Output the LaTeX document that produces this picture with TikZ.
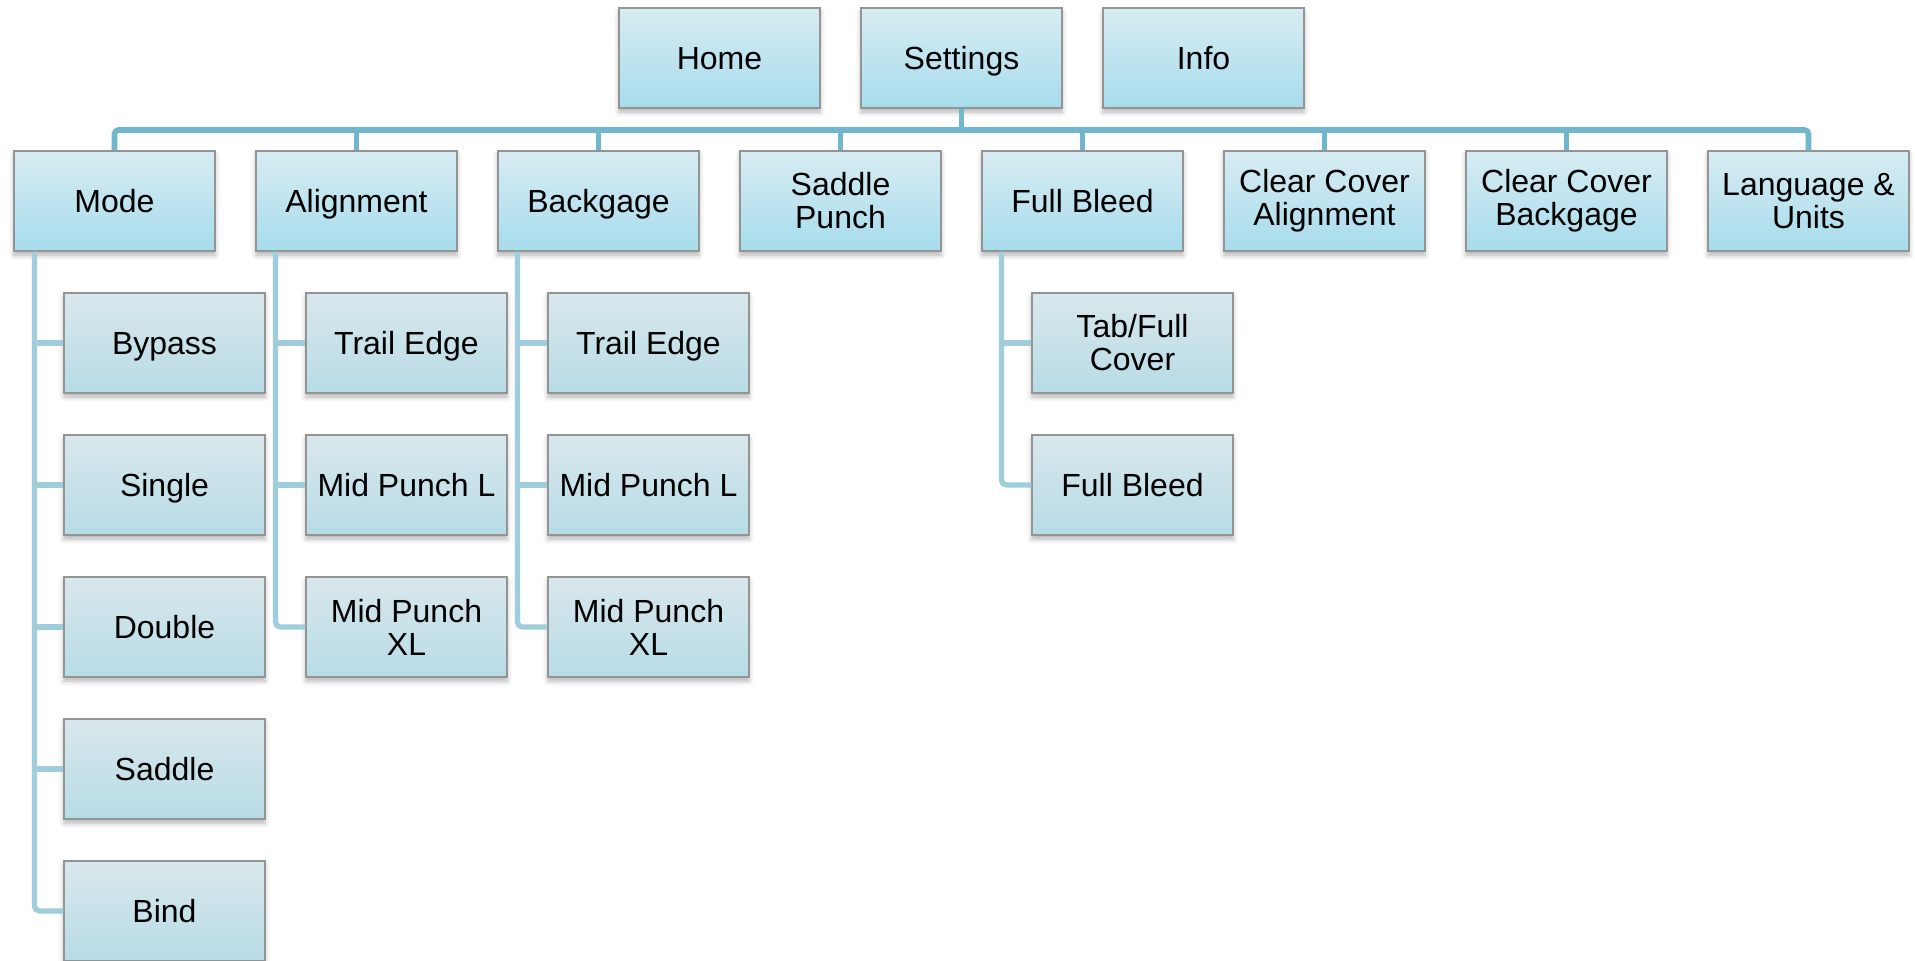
\documentclass[tikz,border=0pt]{standalone}
\usepackage{fontspec}
\setmainfont{Liberation Sans}
\usetikzlibrary{shadows.blur,calc}
\definecolor{boxtopA}{HTML}{D8ECF3}
\definecolor{boxbotA}{HTML}{A6DCEC}
\definecolor{boxtopB}{HTML}{D9E7EC}
\definecolor{boxbotB}{HTML}{B7DCE6}
\definecolor{boxedge}{HTML}{949494}
\definecolor{buscol}{HTML}{70B6CC}
\definecolor{childcol}{HTML}{A0CDDC}
\tikzset{
  basebox/.style={rectangle, draw=boxedge, line width=0.6pt,
    minimum width=100.5pt, minimum height=50pt, inner sep=1pt,
    align=center, font=\fontsize{16}{16.5}\selectfont,
    blur shadow={shadow xshift=0pt, shadow yshift=-2pt, shadow blur radius=2.5pt, shadow opacity=30}},
  oneline/.style={text height=11.4pt, text depth=0pt},
  mainbox/.style={basebox, top color=boxtopA, bottom color=boxbotA},
  subbox/.style={basebox, top color=boxtopB, bottom color=boxbotB},
  busline/.style={draw=buscol, line width=2.8pt, rounded corners=2pt},
  childline/.style={draw=childcol, line width=2.6pt},
  childlast/.style={childline, rounded corners=2.5pt},
}
\begin{document}
\begin{tikzpicture}[x=0.5pt,y=-0.5pt]
\useasboundingbox (0,0) rectangle (1915,960);
% top row
\node[mainbox,oneline] (home) at (719.5,58) {Home};
\node[mainbox,oneline] (settings) at (961.5,58) {Settings};
\node[mainbox,oneline] (info) at (1203.5,58) {Info};
% second row
\node[mainbox,oneline] (mode) at (114.5,201) {Mode};
\node[mainbox,oneline] (align) at (356.5,201) {Alignment};
\node[mainbox,oneline] (backg) at (598.5,201) {Backgage};
\node[mainbox] (spunch) at (840.5,201) {Saddle\\Punch};
\node[mainbox,oneline] (fbleed) at (1082.5,201) {Full Bleed};
\node[mainbox] (ccalign) at (1324.5,201) {Clear Cover\\Alignment};
\node[mainbox] (ccback) at (1566.5,201) {Clear Cover\\Backgage};
\node[mainbox] (lang) at (1808.5,201) {Language \&\\Units};
% mode children
\node[subbox,oneline] (bypass) at (164.5,343) {Bypass};
\node[subbox,oneline] (single) at (164.5,485) {Single};
\node[subbox,oneline] (double) at (164.5,627) {Double};
\node[subbox,oneline] (saddle) at (164.5,769) {Saddle};
\node[subbox,oneline] (bind) at (164.5,911) {Bind};
% alignment children
\node[subbox,oneline] (atrail) at (406.5,343) {Trail Edge};
\node[subbox,oneline] (amidl) at (406.5,485) {Mid Punch L};
\node[subbox] (amidxl) at (406.5,627) {Mid Punch\\XL};
% backgage children
\node[subbox,oneline] (btrail) at (648.5,343) {Trail Edge};
\node[subbox,oneline] (bmidl) at (648.5,485) {Mid Punch L};
\node[subbox] (bmidxl) at (648.5,627) {Mid Punch\\XL};
% full bleed children
\node[subbox] (tabfull) at (1132.5,343) {Tab/Full\\Cover};
\node[subbox,oneline] (fbchild) at (1132.5,485) {Full Bleed};
% bus
\coordinate (bus) at (961.5,130);
\draw[busline] (settings.south) -- (bus);
\draw[busline] (mode.north) -- (mode.north |- bus) -- (lang.north |- bus) -- (lang.north);
\foreach \n in {align,backg,spunch,fbleed,ccalign,ccback}
  \draw[busline] (\n.north) -- (\n.north |- bus);
% child connectors
\coordinate (modeL) at ([xshift=10.5pt]mode.south west);
\foreach \c in {bypass,single,double,saddle}
  \draw[childline] (modeL) |- (\c.west);
\draw[childlast] (modeL) |- (bind.west);
\coordinate (alignL) at ([xshift=10pt]align.south west);
\foreach \c in {atrail,amidl}
  \draw[childline] (alignL) |- (\c.west);
\draw[childlast] (alignL) |- (amidxl.west);
\coordinate (backgL) at ([xshift=10pt]backg.south west);
\foreach \c in {btrail,bmidl}
  \draw[childline] (backgL) |- (\c.west);
\draw[childlast] (backgL) |- (bmidxl.west);
\coordinate (fbleedL) at ([xshift=10pt]fbleed.south west);
\draw[childline] (fbleedL) |- (tabfull.west);
\draw[childlast] (fbleedL) |- (fbchild.west);
\end{tikzpicture}
\end{document}
